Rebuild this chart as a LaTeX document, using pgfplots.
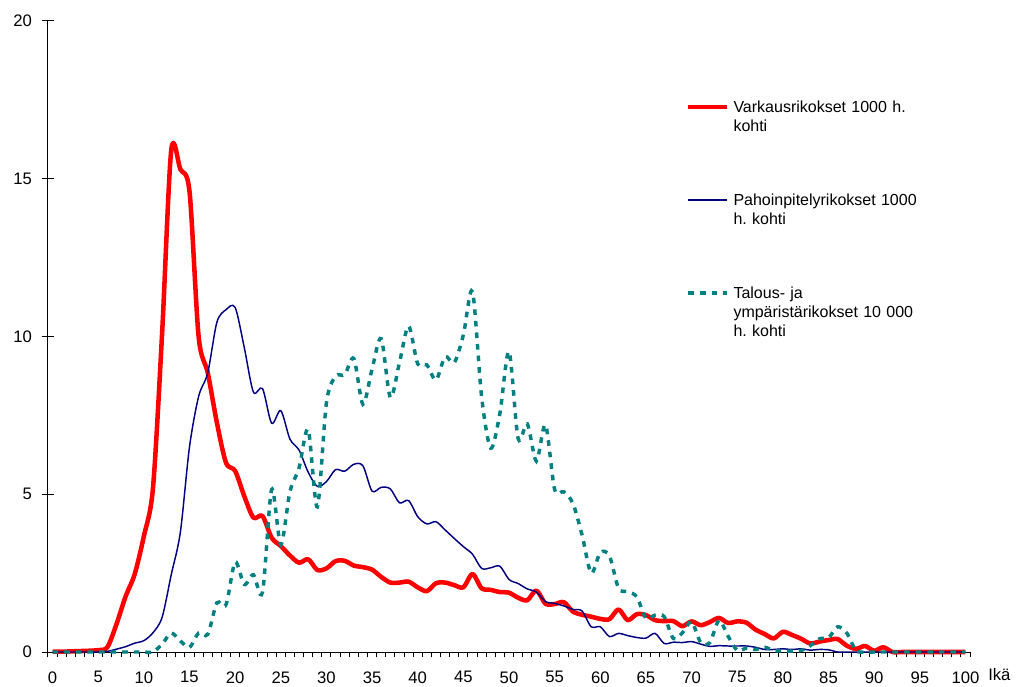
\documentclass[border=0pt]{standalone}
\usepackage{fontspec}
\setmainfont{Liberation Sans}
\usepackage{pgfplots}
\usepackage{pgfplotstable}
\pgfplotsset{compat=1.18}
\definecolor{vred}{RGB}{255,0,0}
\definecolor{pblue}{RGB}{0,0,128}
\definecolor{tteal}{RGB}{0,128,128}

\pgfplotstableread{
x y
0 0.01
1 0.01
2 0.02
3 0.03
4 0.04
5 0.06
6 0.15
7 0.88
8 1.76
9 2.47
10 3.67
11 5.2
12 10.1
13 15.9
14 15.3
15 14.6
16 10.0
17 8.85
18 7.27
19 6.0
20 5.74
21 4.94
22 4.26
23 4.31
24 3.62
25 3.36
26 3.06
27 2.83
28 2.94
29 2.6
30 2.65
31 2.88
32 2.89
33 2.74
34 2.69
35 2.61
36 2.38
37 2.2
38 2.2
39 2.23
40 2.05
41 1.93
42 2.18
43 2.2
44 2.12
45 2.05
46 2.47
47 2.02
48 1.97
49 1.9
50 1.88
51 1.72
52 1.64
53 1.95
54 1.53
55 1.52
56 1.58
57 1.28
58 1.18
59 1.12
60 1.05
61 1.04
62 1.35
63 1.01
64 1.2
65 1.17
66 1.01
67 0.98
68 0.98
69 0.82
70 0.97
71 0.85
72 0.95
73 1.08
74 0.92
75 0.97
76 0.93
77 0.71
78 0.57
79 0.43
80 0.64
81 0.54
82 0.42
83 0.27
84 0.33
85 0.38
86 0.41
87 0.2
88 0.1
89 0.19
90 0.04
91 0.15
92 0
93 0
94 0
95 0
96 0
97 0
98 0
99 0
100 0
}\varkaus

\pgfplotstableread{
x y
0 0
1 0
2 0
3 0
4 0
5 0
6 0.02
7 0.09
8 0.17
9 0.28
10 0.36
11 0.61
12 1.1
13 2.45
14 3.8
15 6.5
16 8.1
17 8.85
18 10.45
19 10.85
20 10.92
21 9.65
22 8.24
23 8.35
24 7.25
25 7.65
26 6.75
27 6.4
28 5.7
29 5.25
30 5.4
31 5.78
32 5.73
33 5.95
34 5.9
35 5.1
36 5.22
37 5.17
38 4.73
39 4.8
40 4.29
41 4.06
42 4.13
43 3.87
44 3.6
45 3.34
46 3.1
47 2.65
48 2.67
49 2.72
50 2.3
51 2.17
52 2.0
53 1.9
54 1.6
55 1.54
56 1.46
57 1.35
58 1.3
59 0.8
60 0.8
61 0.49
62 0.59
63 0.52
64 0.46
65 0.44
66 0.59
67 0.27
68 0.31
69 0.3
70 0.33
71 0.25
72 0.18
73 0.2
74 0.19
75 0.19
76 0.19
77 0.15
78 0.08
79 0.08
80 0.1
81 0.08
82 0.1
83 0.06
84 0.08
85 0.07
86 0
87 0
88 0
89 0
90 0
91 0
92 0
93 0
94 0
95 0
96 0
97 0
98 0
99 0
100 0
}\pahoinpitely

\pgfplotstableread{
x y
0 0
1 0
2 0
3 0
4 0
5 0
6 0
7 0
8 0
9 0
10 0
11 0
12 0.25
13 0.6
14 0.35
15 0.15
16 0.6
17 0.56
18 1.56
19 1.5
20 2.85
21 2.14
22 2.45
23 1.9
24 5.15
25 3.4
26 5.08
27 5.83
28 7.05
29 4.6
30 7.9
31 8.74
32 8.79
33 9.3
34 7.85
35 8.97
36 9.93
37 8.07
38 9.17
39 10.33
40 9.13
41 9.1
42 8.62
43 9.36
44 9.17
45 10.05
46 11.42
47 8.09
48 6.46
49 7.56
50 9.52
51 6.77
52 7.23
53 6.05
54 7.2
55 5.15
56 5.08
57 4.71
58 3.71
59 2.5
60 3.15
61 3.05
62 2.02
63 1.91
64 1.75
65 1.07
66 1.17
67 1.12
68 0.43
69 0.61
70 0.96
71 0.3
72 0.3
73 1.0
74 0.5
75 0.05
76 0.12
77 0.08
78 0.15
79 0.05
80 0.03
81 0.03
82 0.05
83 0.2
84 0.42
85 0.45
86 0.8
87 0.6
88 0.05
89 0
90 0
91 0
92 0
93 0
94 0
95 0
96 0
97 0
98 0
99 0
100 0
}\talous

\begin{document}
\frenchspacing
\begin{tikzpicture}
\begin{axis}[
  scale only axis, width=691.5pt, height=473.25pt,
  xmin=-0.5, xmax=100.5, ymin=0, ymax=20,
  axis x line=bottom, axis y line=left,
  axis line style={-, black, line width=0.75pt},
  xtick={0,5,...,100},
  minor xtick={-0.5,0.5,...,100.5},
  ytick={0,5,10,15,20},
  xtick align=outside, ytick align=center,
  major tick length=9.5pt, minor tick length=4pt,
  every major x tick/.append style={draw=none},
  tick style={black, line width=0.75pt},
  tick label style={font=\fontsize{12.5}{15}\selectfont},
  xticklabel style={yshift=-1.5pt},
  yticklabel style={xshift=-3.75pt},
  /pgf/number format/assume math mode=true,
  clip=false,
  legend cell align=left,
  legend image code/.code={\draw[#1] (0pt,0.43em) -- (29pt,0.43em);},
  legend style={at={(rel axis cs:0.692,0.880)}, anchor=north west, draw=none, fill=none,
    inner sep=0pt, outer sep=0pt, row sep=55.75pt, column sep=1.2pt,
    font=\fontsize{12}{14}\selectfont,
    nodes={anchor=base west, text width=190pt, align=left, text height=10pt, text depth=0pt, inner sep=2pt}},
]
\addplot[vred, line width=3.4pt, smooth, line join=round] table[x=x,y=y] {\varkaus};
\addlegendentry{Varkausrikokset 1000 h.\\kohti}
\addplot[pblue, line width=1.1pt, smooth, line join=round] table[x=x,y=y] {\pahoinpitely};
\addlegendentry{Pahoinpitelyrikokset 1000\\h. kohti}
\addplot[tteal, line width=2.6pt, smooth, dash pattern=on 4.2pt off 4.5pt] table[x=x,y=y] {\talous};
\addlegendentry{Talous- ja\\ympäristärikokset 10 000\\h. kohti}
\node[anchor=base west, inner sep=0pt, xshift=13.5pt, yshift=-21pt, font=\fontsize{12.5}{15}\selectfont] at (axis cs:100.5,0) {Ikä};
\coordinate (o) at (rel axis cs:0,0);
\end{axis}
\pgfresetboundingbox
\path (o) ++(-36pt,-25.5pt) rectangle ++(762pt,514.5pt);
\end{tikzpicture}
\end{document}
